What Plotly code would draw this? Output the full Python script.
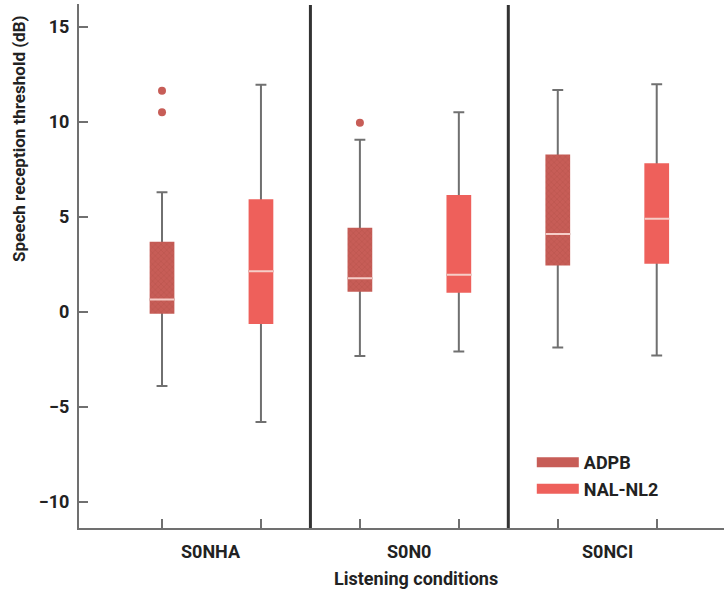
import plotly.graph_objects as go

# ---------------- data ----------------
categories = ["S0NHA", "S0N0", "S0NCI"]
series_names = ["ADPB", "NAL-NL2"]

adpb_low = [-3.90, -2.32, -1.87]
adpb_q1 = [-0.09, 1.07, 2.45]
adpb_med = [0.66, 1.77, 4.10]
adpb_q3 = [3.70, 4.44, 8.29]
adpb_high = [6.30, 9.07, 11.69]
adpb_outliers = [[11.65, 10.52], [9.97], []]

nal_low = [-5.80, -2.08, -2.29]
nal_q1 = [-0.64, 1.01, 2.54]
nal_med = [2.14, 1.96, 4.91]
nal_q3 = [5.93, 6.16, 7.83]
nal_high = [11.97, 10.52, 11.99]
nal_outliers = [[], [], []]

y_ticks = [-10, -5, 0, 5, 10, 15]

# ---------------- styles ----------------
FONT = "Roboto, 'Liberation Sans', sans-serif"
TXT = "#222222"
GRAY = "#707070"
MEDIAN = "#f6cdc8"
colors = {"ADPB": "#c75d57", "NAL-NL2": "#ee605b"}
pattern_fg = {"ADPB": "#a94843", "NAL-NL2": None}

series = [
    dict(name="ADPB", low=adpb_low, q1=adpb_q1, med=adpb_med, q3=adpb_q3,
         high=adpb_high, out=adpb_outliers),
    dict(name="NAL-NL2", low=nal_low, q1=nal_q1, med=nal_med, q3=nal_q3,
         high=nal_high, out=nal_outliers),
]

n_series = len(series)
fig = go.Figure()

BOXW = 0.25
for s_idx, s in enumerate(series):
    pos = [n_series * i + s_idx for i in range(len(categories))]
    col = colors[s["name"]]
    # whiskers (main axes, drawn below bodies)
    fig.add_trace(go.Box(
        x=pos, q1=s["med"], median=s["med"], q3=s["med"],
        lowerfence=s["low"], upperfence=s["high"],
        width=BOXW, whiskerwidth=0.44, boxpoints=False,
        line=dict(color=GRAY, width=2), fillcolor="rgba(0,0,0,0)",
        showlegend=False, hoverinfo="skip", xaxis="x", yaxis="y"))
    # outliers
    ox, oy = [], []
    for i, vals in enumerate(s["out"]):
        for v in vals:
            ox.append(pos[i])
            oy.append(v)
    if ox:
        fig.add_trace(go.Scatter(
            x=ox, y=oy, mode="markers",
            marker=dict(color=col, size=8, line=dict(width=0)),
            showlegend=False, hoverinfo="skip", xaxis="x", yaxis="y"))
    # bodies (overlay axes)
    marker = dict(color=col, line=dict(width=0))
    if pattern_fg[s["name"]]:
        marker["pattern"] = dict(shape="x", size=4, solidity=0.25,
                                 fgcolor=pattern_fg[s["name"]],
                                 fillmode="overlay")
    fig.add_trace(go.Bar(
        x=pos, y=[h - l for h, l in zip(s["q3"], s["q1"])], base=s["q1"],
        width=BOXW, marker=marker, showlegend=False, hoverinfo="skip",
        xaxis="x2", yaxis="y2"))
    # medians (overlay axes)
    fig.add_trace(go.Box(
        x=pos, q1=s["med"], median=s["med"], q3=s["med"],
        lowerfence=s["med"], upperfence=s["med"],
        width=BOXW, whiskerwidth=0, boxpoints=False,
        line=dict(color=MEDIAN, width=2), fillcolor="rgba(0,0,0,0)",
        showlegend=False, hoverinfo="skip", xaxis="x2", yaxis="y2"))
    # legend entry
    fig.add_trace(go.Scatter(
        x=[None], y=[None], mode="lines", name=s["name"],
        line=dict(color=col, width=13), xaxis="x", yaxis="y"))

# dividers between conditions
shapes = []
for i in range(len(categories) - 1):
    xv = n_series * i + n_series - 0.5
    shapes.append(dict(type="line", xref="x", yref="paper", x0=xv, x1=xv,
                       y0=0, y1=0.998, line=dict(color="#333333", width=3)))

annotations = []
for i, c in enumerate(categories):
    annotations.append(dict(
        text=c, x=n_series * i + (n_series - 1) / 2, xref="x", y=0, yref="paper",
        yshift=-23, yanchor="middle", xanchor="center", showarrow=False,
        font=dict(family=FONT, size=18, color=TXT, weight=700)))
annotations.append(dict(
    text="Listening conditions", x=0.5225, xref="paper", y=0, yref="paper",
    yshift=-50, yanchor="middle", xanchor="center", showarrow=False,
    font=dict(family=FONT, size=18, color=TXT, weight=700)))
annotations.append(dict(
    text="Speech reception threshold (dB)", textangle=-90,
    x=0, xref="paper", xshift=-60, xanchor="center",
    y=0.7425, yref="paper", yanchor="middle", showarrow=False,
    font=dict(family=FONT, size=17, color=TXT, weight=700)))

xr = [-0.839, 5.68]
yr = [-11.38, 16.22]
fig.update_layout(
    width=724, height=593,
    margin=dict(l=79, r=0, t=4, b=65),
    paper_bgcolor="white", plot_bgcolor="white",
    boxmode="overlay", barmode="overlay",
    shapes=shapes, annotations=annotations,
    xaxis=dict(range=xr, tickvals=list(range(n_series * len(categories))),
               showticklabels=False, ticks="inside", ticklen=9, tickwidth=2,
               tickcolor=GRAY, showline=True, linecolor=GRAY, linewidth=2,
               showgrid=False, zeroline=False, fixedrange=True),
    yaxis=dict(range=yr, tickvals=y_ticks, ticks="inside", ticklen=9,
               tickwidth=2, tickcolor=GRAY, showline=True, linecolor=GRAY,
               linewidth=2, showgrid=False, zeroline=False, ticklabelstandoff=4,
               tickfont=dict(family=FONT, size=18, color=TXT, weight=700)),
    xaxis2=dict(range=xr, overlaying="x", visible=False, matches="x"),
    yaxis2=dict(range=yr, overlaying="y", visible=False, matches="y"),
    legend=dict(x=0.702, y=0.16, xanchor="left", yanchor="top",
                bgcolor="rgba(0,0,0,0)", itemwidth=42,
                font=dict(family=FONT, size=18, color=TXT, weight=700)),
)

fig.write_html("out.html")
